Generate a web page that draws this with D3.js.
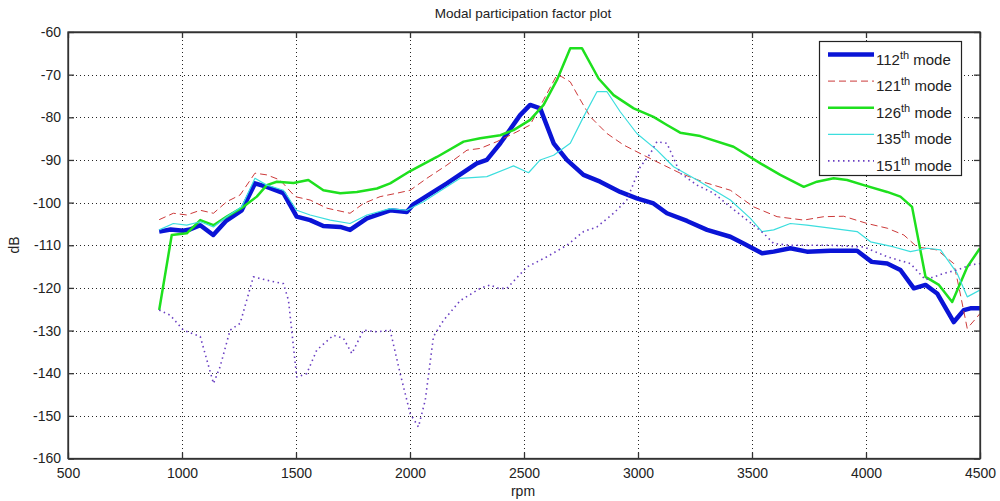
<!DOCTYPE html>
<html>
<head>
<meta charset="utf-8">
<script src="https://cdn.jsdelivr.net/npm/d3@7"></script>
<style>
  html, body { margin: 0; padding: 0; background: #fff; }
  svg { display: block; font-family: "Liberation Sans", Arial, sans-serif; }
</style>
</head>
<body>
<svg id="chart" width="1000" height="501"></svg>
<script>
// Modal participation factor vs. shaft speed, one series per mode
const xTicks = [500, 1000, 1500, 2000, 2500, 3000, 3500, 4000, 4500];
const yTicks = [-60, -70, -80, -90, -100, -110, -120, -130, -140, -150, -160];

const rpm112 = [900, 950, 1005, 1035, 1080, 1137, 1195, 1262, 1320, 1372, 1445, 1503, 1562, 1620, 1694, 1737, 1811, 1913, 1986, 2015, 2162, 2293, 2337, 2396, 2483, 2527, 2571, 2630, 2688, 2761, 2834, 2922, 2995, 3068, 3127, 3215, 3303, 3405, 3463, 3544, 3595, 3668, 3741, 3844, 3961, 4025, 4093, 4151, 4210, 4261, 4312, 4385, 4429, 4458, 4500];
const db112  = [-106.8, -106.3, -106.6, -106.3, -105.3, -107.6, -104.2, -101.8, -95.5, -96.3, -97.8, -103.3, -104.1, -105.5, -105.7, -106.4, -103.7, -101.8, -102.2, -100.4, -95.5, -90.8, -90, -86.1, -79.5, -77.1, -77.9, -86.1, -90, -93.5, -95.1, -97.5, -99.0, -100.2, -102.5, -104.3, -106.4, -108, -109.6, -111.9, -111.5, -110.7, -111.5, -111.3, -111.3, -113.9, -114.3, -115.8, -120.1, -119.3, -121.3, -128, -125.2, -124.8, -124.8];

const rpm121 = [900, 962, 1021, 1080, 1138, 1196, 1255, 1320, 1372, 1430, 1496, 1562, 1635, 1737, 1796, 1869, 1942, 2001, 2074, 2162, 2250, 2308, 2381, 2469, 2527, 2586, 2644, 2666, 2703, 2747, 2791, 2864, 2937, 3025, 3112, 3185, 3288, 3405, 3507, 3610, 3727, 3815, 3902, 4005, 4093, 4166, 4224, 4312, 4385, 4407, 4444, 4488, 4500];
const db121  = [-104, -102.5, -102.9, -101.8, -102.5, -99.8, -98.2, -93.1, -93.5, -94.7, -98.6, -99.4, -101.3, -102.5, -100.2, -98.6, -97.8, -97.1, -94.3, -91.2, -87.7, -87.3, -85.7, -83.4, -81.8, -75.9, -70.1, -70.5, -71.7, -75.9, -79.9, -83.8, -86.5, -88.9, -91.2, -93.1, -95.2, -97.1, -101, -103.3, -104.1, -103.3, -103.2, -104.9, -106, -107.6, -110.4, -111.1, -114.3, -119.7, -129.5, -126.8, -126];

const rpm126 = [900, 955, 1021, 1080, 1138, 1196, 1269, 1328, 1372, 1416, 1489, 1554, 1620, 1694, 1767, 1855, 1913, 2001, 2118, 2235, 2308, 2396, 2454, 2527, 2586, 2644, 2703, 2754, 2827, 2893, 2981, 3068, 3127, 3185, 3273, 3419, 3537, 3624, 3727, 3785, 3858, 3917, 3990, 4093, 4151, 4202, 4261, 4320, 4378, 4444, 4500];
const db126  = [-125.2, -107.6, -107.2, -104.1, -105.3, -103.3, -101, -98.6, -95.9, -95.1, -95.4, -94.7, -97.1, -97.8, -97.5, -96.7, -95.5, -92.6, -89.3, -85.7, -84.9, -84.2, -83, -80.6, -77.1, -71.3, -63.8, -63.8, -70.9, -74.8, -77.9, -79.9, -81.8, -83.6, -84.4, -86.9, -90.8, -93.5, -96.3, -95.1, -94.3, -94.7, -95.9, -97.5, -98.6, -101, -117.4, -119.3, -123.3, -115.1, -110.7];

const rpm135 = [900, 962, 1021, 1080, 1138, 1196, 1262, 1320, 1372, 1445, 1503, 1562, 1650, 1737, 1811, 1913, 1986, 2059, 2132, 2220, 2337, 2454, 2520, 2571, 2630, 2703, 2761, 2820, 2864, 2922, 2995, 3083, 3156, 3259, 3405, 3493, 3544, 3595, 3668, 3741, 3844, 3961, 4020, 4122, 4195, 4268, 4327, 4400, 4444, 4500];
const db135  = [-106.4, -104.9, -105.3, -104.5, -105.7, -103.3, -101, -94.3, -95.9, -97.1, -101.8, -102.9, -104.1, -104.9, -102.9, -101.4, -101.8, -99.8, -97.3, -94.3, -93.9, -91.4, -93.0, -90, -88.9, -86.1, -79.9, -74, -74, -78.7, -83.8, -87.7, -91.6, -94.7, -99.4, -103.7, -106.8, -106.4, -104.9, -105.3, -106, -106.8, -109.2, -110.4, -111.5, -110.7, -111.1, -116.6, -122.1, -120.5];

const rpm151 = [900, 948, 1006, 1080, 1138, 1167, 1211, 1255, 1313, 1372, 1445, 1467, 1503, 1547, 1591, 1664, 1708, 1745, 1796, 1855, 1913, 1957, 2001, 2037, 2067, 2103, 2147, 2220, 2308, 2352, 2388, 2425, 2513, 2601, 2688, 2761, 2820, 2893, 2951, 3010, 3054, 3083, 3127, 3185, 3259, 3332, 3405, 3478, 3551, 3595, 3668, 3844, 3990, 4093, 4195, 4261, 4341, 4400, 4458, 4500];
const db151  = [-125.2, -126.4, -129.9, -131.4, -142.4, -138.5, -129.9, -128.3, -117.4, -118.2, -119, -122.9, -140.9, -140.1, -134.6, -131.1, -131.8, -135.4, -129.9, -130.3, -129.9, -140.1, -149.5, -152.6, -146.3, -131.4, -127.6, -123, -120.1, -119.3, -120.1, -120.1, -115.1, -112.7, -110, -106.8, -105.7, -102.5, -99.4, -91.6, -88.5, -85.7, -86.1, -93.1, -95.9, -97.8, -101, -104.1, -107.2, -109.6, -110, -110, -110.4, -112.7, -114.3, -118.1, -116.6, -115.8, -114.6, -114.3];

const seriesNames = ["112", "121", "126", "135", "151"];

const series = [
  { name: seriesNames[0], rpm: rpm112, db: db112, color: "#0a14d6", width: 4.5, dash: null },
  { name: seriesNames[1], rpm: rpm121, db: db121, color: "#cc3a3a", width: 1, dash: "7,4" },
  { name: seriesNames[2], rpm: rpm126, db: db126, color: "#1ee01e", width: 2.5, dash: null },
  { name: seriesNames[3], rpm: rpm135, db: db135, color: "#3cdede", width: 1.2, dash: null },
  { name: seriesNames[4], rpm: rpm151, db: db151, color: "#6a3fc2", width: 1.6, dash: "1.5,3.5" }
];

const svg = d3.select("#chart");
const plotLeft = 68, plotRight = 980, plotTop = 32, plotBottom = 458.5;

const x = d3.scaleLinear().domain([500, 4500]).range([plotLeft, plotRight]);
const y = d3.scaleLinear().domain([-160, -60]).range([plotBottom, plotTop]);

// dotted grid
const grid = svg.append("g").attr("stroke", "#000").attr("stroke-width", 1)
  .attr("stroke-dasharray", "1,3").attr("opacity", 0.85);
grid.selectAll(".gx").data(xTicks.slice(1, -1)).join("line")
  .attr("x1", d => Math.round(x(d)) + 0.5).attr("x2", d => Math.round(x(d)) + 0.5)
  .attr("y1", plotTop).attr("y2", plotBottom);
grid.selectAll(".gy").data(yTicks.slice(1, -1)).join("line")
  .attr("y1", d => Math.round(y(d)) + 0.5).attr("y2", d => Math.round(y(d)) + 0.5)
  .attr("x1", plotLeft).attr("x2", plotRight);

// axes with inward ticks on all four sides; plain number labels with ASCII hyphen
const plain = d => String(d);
const tickLen = 6;
const axB = svg.append("g").attr("transform", `translate(0,${plotBottom})`)
  .call(d3.axisBottom(x).tickValues(xTicks).tickFormat(plain).tickSizeInner(-tickLen).tickSizeOuter(0).tickPadding(10));
const axT = svg.append("g").attr("transform", `translate(0,${plotTop})`)
  .call(d3.axisTop(x).tickValues(xTicks).tickSizeInner(-tickLen).tickSizeOuter(0).tickFormat(""));
const axL = svg.append("g").attr("transform", `translate(${plotLeft},0)`)
  .call(d3.axisLeft(y).tickValues(yTicks).tickFormat(plain).tickSizeInner(-tickLen).tickSizeOuter(0).tickPadding(7));
const axR = svg.append("g").attr("transform", `translate(${plotRight},0)`)
  .call(d3.axisRight(y).tickValues(yTicks).tickSizeInner(-tickLen).tickSizeOuter(0).tickFormat(""));

[axB, axT, axL, axR].forEach(g => {
  g.select(".domain").attr("stroke", "#333").attr("stroke-width", 1.3);
  g.selectAll(".tick line").attr("stroke", "#333").attr("stroke-width", 1.3);
  g.selectAll(".tick text").attr("fill", "#222").style("font-size", "14px")
    .style("font-family", "'Liberation Sans', Arial, sans-serif");
});

// series lines
svg.append("clipPath").attr("id", "plotclip")
  .append("rect").attr("x", plotLeft).attr("y", plotTop)
  .attr("width", plotRight - plotLeft).attr("height", plotBottom - plotTop);

const line = d3.line().x(d => x(d[0])).y(d => y(d[1]));
const plot = svg.append("g").attr("clip-path", "url(#plotclip)");
series.forEach(s => {
  const pts = s.rpm.map((r, i) => [r, s.db[i]]);
  plot.append("path").datum(pts)
    .attr("d", line)
    .attr("fill", "none")
    .attr("stroke", s.color)
    .attr("stroke-width", s.width)
    .attr("stroke-linejoin", "round")
    .attr("stroke-dasharray", s.dash);
});

// frame over lines
svg.append("rect").attr("x", plotLeft).attr("y", plotTop)
  .attr("width", plotRight - plotLeft).attr("height", plotBottom - plotTop)
  .attr("fill", "none").attr("stroke", "#333").attr("stroke-width", 1.3);

// legend
const lg = svg.append("g");
lg.append("rect").attr("x", 819.5).attr("y", 41.5).attr("width", 142).attr("height", 134)
  .attr("fill", "#fff").attr("stroke", "#222").attr("stroke-width", 1.2);
series.forEach((s, i) => {
  const ly = 54.5 + i * 26.6;
  lg.append("line").attr("x1", 828).attr("x2", 874).attr("y1", ly).attr("y2", ly)
    .attr("stroke", s.color).attr("stroke-width", s.width)
    .attr("stroke-dasharray", s.dash);
  const t = lg.append("text").attr("x", 876).attr("y", ly + 10)
    .attr("fill", "#222").style("font-size", "15px");
  t.append("tspan").text(s.name);
  t.append("tspan").attr("dy", -6).style("font-size", "11px").text("th");
  t.append("tspan").attr("dy", 6).text(" mode");
});

// titles
svg.append("text").attr("x", 523).attr("y", 18).attr("text-anchor", "middle")
  .attr("fill", "#222").style("font-size", "13.5px").text("Modal participation factor plot");
svg.append("text").attr("x", 523).attr("y", 496).attr("text-anchor", "middle")
  .attr("fill", "#222").style("font-size", "14px").text("rpm");
svg.append("text").attr("transform", "translate(19,245) rotate(-90)").attr("text-anchor", "middle")
  .attr("fill", "#222").style("font-size", "14px").text("dB");
</script>
</body>
</html>
